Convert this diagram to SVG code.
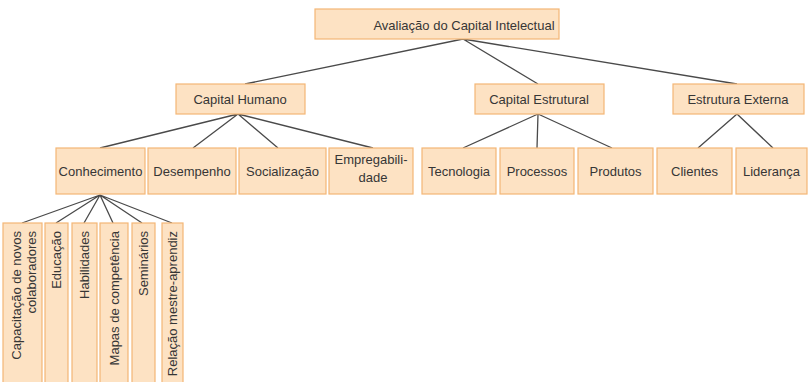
<svg xmlns="http://www.w3.org/2000/svg" width="808" height="382" viewBox="0 0 808 382">
<style>
.box{fill:#fde2c3;stroke:#f3b676;stroke-width:1.2}
.t{font-family:"Liberation Sans",Arial,sans-serif;font-size:13px;fill:#363636;text-anchor:middle}
.v{font-family:"Liberation Sans",Arial,sans-serif;font-size:13px;fill:#363636;text-anchor:end}
.c{stroke:#4a4a4a;stroke-width:1.3;fill:none}
</style>
<rect width="808" height="382" fill="#ffffff"/>
<g id="connectors">
<path class="c" d="M463 39 L245 84 M463 39 L538 84 M463 39 L737 84"/>
<path class="c" d="M238 114 L100 148 M238 114 L193 148 M238 114 L278 148 M238 114 L373 148"/>
<path class="c" d="M538 114 L463 148 M538 114 L537 148 M538 114 L612 148"/>
<path class="c" d="M737 114 L698 148 M737 114 L773 148"/>
<path class="c" d="M100 195 L22 223 M100 195 L56 223 M100 195 L84 223 M100 195 L113 223 M100 195 L142 223 M100 195 L172 223"/>
</g>
<g id="n-avaliacao"><rect class="box" x="315" y="9" width="244" height="30"/><text class="t" x="464" y="29.5">Avaliação do Capital Intelectual</text></g>
<g id="n-capital-humano"><rect class="box" x="176" y="84" width="129" height="30"/><text class="t" x="240" y="104">Capital Humano</text></g>
<g id="n-capital-estrutural"><rect class="box" x="475" y="84" width="129" height="30"/><text class="t" x="539" y="104">Capital Estrutural</text></g>
<g id="n-estrutura-externa"><rect class="box" x="673" y="84" width="131" height="30"/><text class="t" x="738" y="104">Estrutura Externa</text></g>
<g id="n-conhecimento"><rect class="box" x="56" y="148" width="89" height="46"/><text class="t" x="100.5" y="175.5">Conhecimento</text></g>
<g id="n-desempenho"><rect class="box" x="148" y="148" width="88" height="46"/><text class="t" x="192" y="175.5">Desempenho</text></g>
<g id="n-socializacao"><rect class="box" x="239" y="148" width="87" height="46"/><text class="t" x="282.5" y="175.5">Socialização</text></g>
<g id="n-empregabilidade"><rect class="box" x="329" y="148" width="84" height="46"/><text class="t" x="371" y="164">Empregabili-</text><text class="t" x="373" y="182">dade</text></g>
<g id="n-tecnologia"><rect class="box" x="422" y="148" width="74" height="46"/><text class="t" x="459" y="175.5">Tecnologia</text></g>
<g id="n-processos"><rect class="box" x="500" y="148" width="74" height="46"/><text class="t" x="537" y="175.5">Processos</text></g>
<g id="n-produtos"><rect class="box" x="578" y="148" width="75" height="46"/><text class="t" x="615.5" y="175.5">Produtos</text></g>
<g id="n-clientes"><rect class="box" x="657" y="148" width="75" height="46"/><text class="t" x="694.5" y="175.5">Clientes</text></g>
<g id="n-lideranca"><rect class="box" x="736" y="148" width="71" height="46"/><text class="t" x="771.5" y="175.5">Liderança</text></g>
<g id="n-capacitacao"><rect class="box" x="3" y="223" width="39" height="163"/><text class="v" transform="translate(21,231) rotate(-90)">Capacitação de novos</text><text class="v" transform="translate(36,231) rotate(-90)">colaboradores</text></g>
<g id="n-educacao"><rect class="box" x="45" y="223" width="23" height="163"/><text class="v" transform="translate(61,231) rotate(-90)">Educação</text></g>
<g id="n-habilidades"><rect class="box" x="72" y="223" width="25" height="163"/><text class="v" transform="translate(89,231) rotate(-90)">Habilidades</text></g>
<g id="n-mapas"><rect class="box" x="100" y="223" width="28" height="163"/><text class="v" transform="translate(118.5,231) rotate(-90)">Mapas de competência</text></g>
<g id="n-seminarios"><rect class="box" x="132" y="223" width="23" height="163"/><text class="v" transform="translate(148,231) rotate(-90)">Seminários</text></g>
<g id="n-relacao"><rect class="box" x="162" y="223" width="21" height="163"/><text class="v" transform="translate(177,231) rotate(-90)">Relação mestre-aprendiz</text></g>
</svg>
